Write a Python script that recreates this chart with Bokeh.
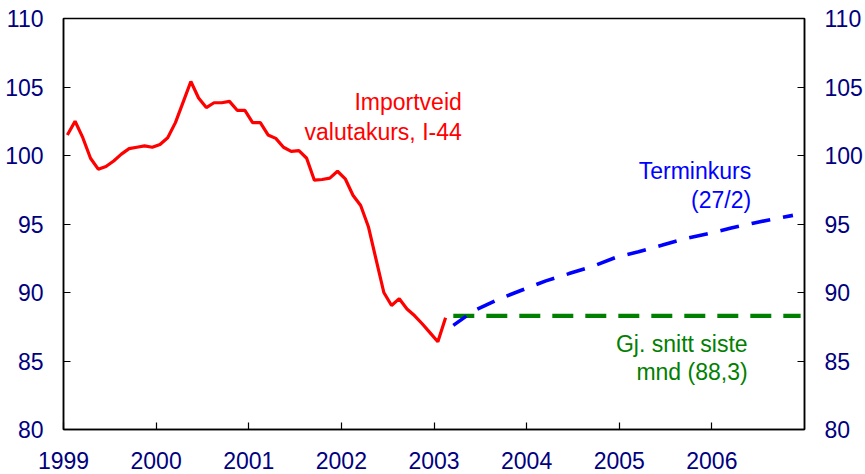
from bokeh.plotting import figure
from bokeh.models import LinearAxis, FixedTicker, Range1d, Label, ColumnDataSource
from bokeh.embed import file_html
from bokeh.resources import INLINE

# ---- data ----
# Import-weighted exchange rate I-44, monthly Jan 1999 - Feb 2003
red_start_year = 1999
red_values = [101.5, 102.5, 101.3, 99.8, 99.0, 99.2, 99.6, 100.1, 100.5, 100.6,
              100.7, 100.6, 100.8, 101.3, 102.4, 103.9, 105.4, 104.2, 103.5, 103.85,
              103.85, 103.95, 103.3, 103.3, 102.4, 102.4, 101.5, 101.25, 100.6, 100.3,
              100.35, 99.8, 98.2, 98.25, 98.35, 98.85, 98.3, 97.1, 96.35, 94.8,
              92.4, 90.0, 89.05, 89.55, 88.8, 88.3, 87.7, 87.05, 86.4, 88.15]

# Forward rate (27/2): months counted from Jan 1999
blue_months = [50, 52, 53, 56, 59, 62, 65, 68, 71, 74, 77, 80, 83, 86, 89, 92, 94]
blue_values = [87.6, 88.4, 88.75, 89.54, 90.2, 90.85, 91.38, 91.9, 92.55, 92.98,
               93.45, 93.93, 94.3, 94.7, 95.08, 95.42, 95.63]

# Average last month (88,3)
green_months = [50, 95]
green_values = [88.3, 88.3]

y_ticks = [80, 85, 90, 95, 100, 105, 110]
year_ticks = [1999, 2000, 2001, 2002, 2003, 2004, 2005, 2006]
year_labels = ["1999", "2000", "2001", "2002", "2003", "2004", "2005", "2006"]


def month_to_x(m):
    return red_start_year + (m + 0.5) / 12.0


red_src = ColumnDataSource(dict(x=[month_to_x(i) for i in range(len(red_values))], y=red_values))
blue_src = ColumnDataSource(dict(x=[month_to_x(m) for m in blue_months], y=blue_values))
green_src = ColumnDataSource(dict(x=[month_to_x(m) for m in green_months], y=green_values))

FONT = "Liberation Sans"
FS = "23px"
NAVY = "#000080"

p = figure(width=865, height=474, x_range=Range1d(1999, 2007), y_range=Range1d(80, 110),
           output_backend="svg", toolbar_location=None,
           min_border_left=63, min_border_right=60, min_border_top=18, min_border_bottom=45)
p.background_fill_color = "white"
p.border_fill_color = "white"
p.outline_line_color = "black"
p.outline_line_width = 1.5
p.xgrid.visible = False
p.ygrid.visible = False

# left axis
ya = p.yaxis[0]
ya.ticker = FixedTicker(ticks=y_ticks)
ya.minor_tick_line_color = None
ya.major_tick_in = 7
ya.major_tick_out = 0
ya.major_label_standoff = 20
ya.axis_line_width = 1.5
ya.major_tick_line_width = 1.2
ya.major_label_text_font = FONT
ya.major_label_text_font_size = FS
ya.major_label_text_color = NAVY

# right axis
ra = LinearAxis(ticker=FixedTicker(ticks=y_ticks))
ra.minor_tick_line_color = None
ra.major_tick_in = 7
ra.major_tick_out = 0
ra.major_label_standoff = 20
ra.axis_line_width = 1.5
ra.major_tick_line_width = 1.2
ra.major_label_text_font = FONT
ra.major_label_text_font_size = FS
ra.major_label_text_color = NAVY
p.add_layout(ra, "right")

# x axis
xa = p.xaxis[0]
xa.ticker = FixedTicker(ticks=year_ticks)
xa.major_label_overrides = {t: l for t, l in zip(year_ticks, year_labels)}
xa.minor_tick_line_color = None
xa.major_tick_in = 7
xa.major_tick_out = 0
xa.major_label_standoff = 22
xa.major_label_text_line_height = 0.8
xa.axis_line_width = 1.5
xa.major_tick_line_width = 1.2
xa.major_label_text_font = FONT
xa.major_label_text_font_size = FS
xa.major_label_text_color = NAVY

# lines
p.line("x", "y", source=green_src, line_color="#008000", line_width=4.2, line_dash="21 12")
p.line("x", "y", source=blue_src, line_color="#0000ff", line_width=3.6, line_dash="19 13",
       line_dash_offset=3)
p.line("x", "y", source=red_src, line_color="#ff0000", line_width=3.2)

# annotations
def add_label(x, y, text, color):
    p.add_layout(Label(x=x, y=y, text=text, text_align="right", text_baseline="alphabetic",
                       text_color=color, text_font=FONT, text_font_size=FS))

add_label(2003.30, 103.9, "Importveid", "#ff0000")
add_label(2003.30, 101.75, "valutakurs, I-44", "#ff0000")
add_label(2006.424, 98.85, "Terminkurs", "#0000ff")
add_label(2006.424, 96.72, "(27/2)", "#0000ff")
add_label(2006.386, 86.26, "Gj. snitt siste", "#008000")
add_label(2006.386, 84.18, "mnd (88,3)", "#008000")

open("out.html", "w").write(file_html(p, INLINE))
